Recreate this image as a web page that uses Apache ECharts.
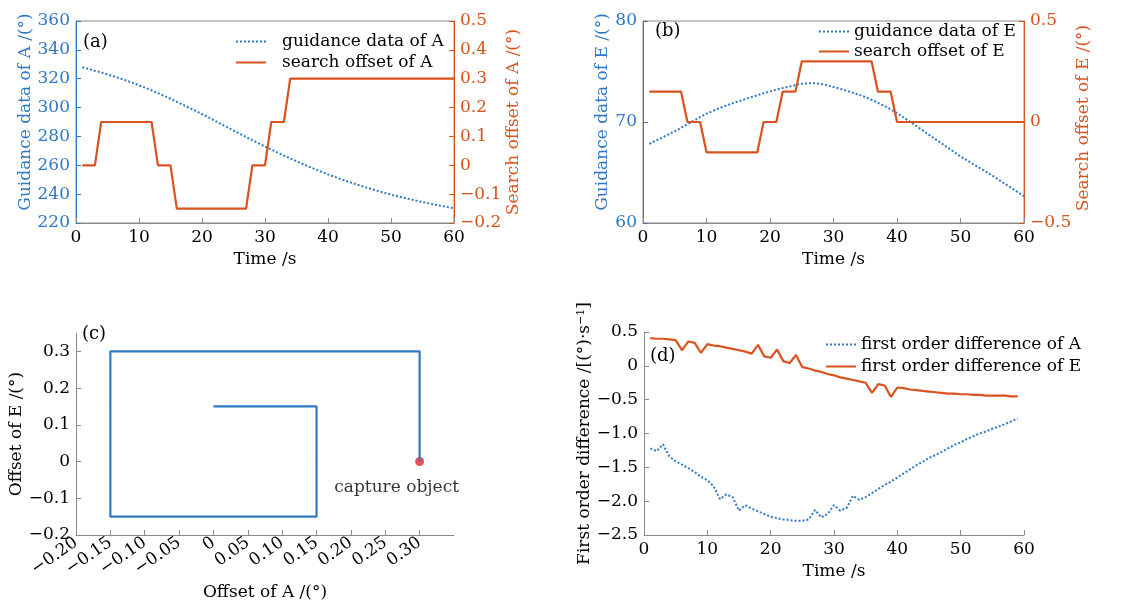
<!DOCTYPE html>
<html>
<head>
<meta charset="utf-8">
<script src="https://cdn.jsdelivr.net/npm/echarts@6/dist/echarts.min.js"></script>
<style>
html,body{margin:0;padding:0;background:#fff;}
#chart{width:1128px;height:606px;}
</style>
</head>
<body>
<div id="chart"></div>
<script>
// ---------- data ----------
const time60 = [1,2,3,4,5,6,7,8,9,10,11,12,13,14,15,16,17,18,19,20,21,22,23,24,25,26,27,28,29,30,31,32,33,34,35,36,37,38,39,40,41,42,43,44,45,46,47,48,49,50,51,52,53,54,55,56,57,58,59,60];
const time59 = [1,2,3,4,5,6,7,8,9,10,11,12,13,14,15,16,17,18,19,20,21,22,23,24,25,26,27,28,29,30,31,32,33,34,35,36,37,38,39,40,41,42,43,44,45,46,47,48,49,50,51,52,53,54,55,56,57,58,59];

const guidanceA = [328.0,326.8,325.5,324.4,323.0,321.6,320.2,318.7,317.1,315.4,
                   313.7,311.9,310.0,308.1,306.1,304.0,301.9,299.8,297.7,295.5,
                   293.3,291.0,288.7,286.4,284.1,281.8,279.6,277.4,275.2,273.0,
                   271.0,268.8,266.7,264.8,262.8,260.9,259.0,257.2,255.4,253.7,
                   252.1,250.5,249.0,247.5,246.1,244.7,243.4,242.1,240.9,239.7,
                   238.6,237.5,236.5,235.5,234.5,233.6,232.7,231.8,231.0,230.2];
const searchOffsetA = [0,0,0,0.15,0.15,0.15,0.15,0.15,0.15,0.15,
                       0.15,0.15,0,0,0,-0.15,-0.15,-0.15,-0.15,-0.15,
                       -0.15,-0.15,-0.15,-0.15,-0.15,-0.15,-0.15,0,0,0,
                       0.15,0.15,0.15,0.3,0.3,0.3,0.3,0.3,0.3,0.3,
                       0.3,0.3,0.3,0.3,0.3,0.3,0.3,0.3,0.3,0.3,
                       0.3,0.3,0.3,0.3,0.3,0.3,0.3,0.3,0.3,0.3];

const guidanceE = [67.83,68.15,68.45,68.77,69.08,69.43,69.78,70.13,70.48,70.82,
                   71.10,71.36,71.60,71.83,72.04,72.25,72.45,72.65,72.85,73.03,
                   73.20,73.36,73.50,73.65,73.79,73.83,73.84,73.78,73.65,73.46,
                   73.30,73.10,72.90,72.70,72.47,72.20,71.90,71.60,71.25,70.89,
                   70.47,70.05,69.62,69.19,68.75,68.32,67.89,67.46,67.03,66.60,
                   66.22,65.84,65.46,65.08,64.70,64.29,63.88,63.47,63.06,62.65];
const searchOffsetE = [0.15,0.15,0.15,0.15,0.15,0.15,0,0,0,-0.15,
                       -0.15,-0.15,-0.15,-0.15,-0.15,-0.15,-0.15,-0.15,0,0,
                       0,0.15,0.15,0.15,0.3,0.3,0.3,0.3,0.3,0.3,
                       0.3,0.3,0.3,0.3,0.3,0.3,0.15,0.15,0.15,0,
                       0,0,0,0,0,0,0,0,0,0,
                       0,0,0,0,0,0,0,0,0,0];

const captureObject = [0.3, 0];

const diffA = [-1.22,-1.26,-1.16,-1.34,-1.41,-1.46,-1.51,-1.57,-1.64,-1.69,
               -1.78,-1.97,-1.90,-1.94,-2.14,-2.06,-2.11,-2.15,-2.19,-2.23,
               -2.25,-2.27,-2.28,-2.29,-2.29,-2.27,-2.13,-2.24,-2.19,-2.06,
               -2.14,-2.10,-1.92,-1.98,-1.94,-1.88,-1.82,-1.76,-1.71,-1.65,
               -1.59,-1.53,-1.47,-1.42,-1.36,-1.32,-1.27,-1.22,-1.17,-1.13,
               -1.08,-1.04,-1.00,-0.97,-0.93,-0.90,-0.86,-0.82,-0.78];
const diffE = [0.41,0.40,0.40,0.39,0.38,0.23,0.36,0.34,0.19,0.32,
               0.30,0.29,0.27,0.25,0.23,0.21,0.18,0.31,0.14,0.12,
               0.24,0.07,0.04,0.16,-0.02,-0.04,-0.07,-0.09,-0.12,-0.14,
               -0.17,-0.19,-0.21,-0.23,-0.25,-0.40,-0.27,-0.29,-0.46,-0.32,
               -0.33,-0.35,-0.36,-0.37,-0.38,-0.39,-0.40,-0.41,-0.41,-0.42,
               -0.42,-0.43,-0.43,-0.44,-0.44,-0.44,-0.44,-0.45,-0.45];

// ---------- styles ----------
const FONT = 'DejaVu Serif';
const FS = 17;
const BLUE = '#2f78c4';
const ORANGE = '#d9531e';
const GRAY = '#8a8a8a';
const MINUS = '\u2212';

function fmt(dec) {
  return function (v) {
    if (Math.abs(v) < 1e-9) return '0';
    const s = Math.abs(v).toFixed(dec);
    return v < 0 ? MINUS + s : s;
  };
}
function pairs(xs, ys) { return xs.map((x, i) => [x, ys[i]]); }

function baseAxis(extra) {
  return Object.assign({
    type: 'value',
    splitLine: {show: false},
    axisTick: {show: true, inside: true, length: 5, lineStyle: {color: GRAY}},
    axisLine: {show: true, onZero: false, lineStyle: {color: GRAY, width: 1}},
    axisLabel: {fontFamily: FONT, fontSize: FS, color: '#000', margin: 6},
    nameTextStyle: {fontFamily: FONT, fontSize: FS, color: '#000'},
    nameLocation: 'middle'
  }, extra);
}
function colored(color, namePad) {
  return {
    axisLine: {show: true, onZero: false, lineStyle: {color: color, width: 1}},
    axisTick: {show: true, inside: true, length: 5, lineStyle: {color: color}},
    axisLabel: {fontFamily: FONT, fontSize: FS, color: color, margin: 6},
    nameTextStyle: {fontFamily: FONT, fontSize: FS, color: color, padding: namePad || 0}
  };
}

const legendCommon = {orient: 'vertical', padding: 0, itemWidth: 30, itemHeight: 17,
  itemStyle: {opacity: 0}};

const chart = echarts.init(document.getElementById('chart'));
const option = {
  animation: false,
  backgroundColor: '#fff',
  textStyle: {fontFamily: FONT, fontSize: FS},
  grid: [
    {left: 76, top: 21, width: 378, height: 202, show: true, borderColor: GRAY, borderWidth: 1, backgroundColor: 'transparent'},
    {left: 643, top: 21, width: 381, height: 202, show: true, borderColor: GRAY, borderWidth: 1, backgroundColor: 'transparent'},
    {left: 76, top: 333, width: 378, height: 202},
    {left: 644, top: 332, width: 380, height: 203}
  ],
  xAxis: [
    baseAxis({gridIndex: 0, min: 0, max: 60, interval: 10, name: 'Time /s', nameGap: 28}),
    baseAxis({gridIndex: 1, min: 0, max: 60, interval: 10, name: 'Time /s', nameGap: 28}),
    baseAxis({gridIndex: 2, min: -0.2, max: 0.35, interval: 0.05, name: 'Offset of A /(°)', nameGap: 49,
      axisLabel: {fontFamily: FONT, fontSize: FS, color: '#000', margin: 6, rotate: 35, showMaxLabel: false,
        formatter: function (v) { return v > 0.33 ? '' : fmt(2)(v); }}}),
    baseAxis({gridIndex: 3, min: 0, max: 60, interval: 10, name: 'Time /s', nameGap: 28})
  ],
  yAxis: [
    Object.assign(baseAxis({gridIndex: 0, min: 220, max: 360, interval: 20, name: 'Guidance data of A /(°)', nameGap: 41, position: 'left'}), colored(BLUE, [0, 0, 0, 20])),
    Object.assign(baseAxis({gridIndex: 0, min: -0.2, max: 0.5, interval: 0.1, name: 'Search offset of A /(°)', nameGap: 46, position: 'right'}), colored(ORANGE),
      {axisLabel: {fontFamily: FONT, fontSize: FS, color: ORANGE, margin: 6, formatter: fmt(1)}}),
    Object.assign(baseAxis({gridIndex: 1, min: 60, max: 80, interval: 10, name: 'Guidance data of E /(°)', nameGap: 31, position: 'left'}), colored(BLUE, [0, 0, 0, 20])),
    Object.assign(baseAxis({gridIndex: 1, min: -0.5, max: 0.5, interval: 0.5, name: 'Search offset of E /(°)', nameGap: 48, position: 'right'}), colored(ORANGE, [0, 0, 0, 8]),
      {axisLabel: {fontFamily: FONT, fontSize: FS, color: ORANGE, margin: 6, formatter: fmt(1)}}),
    baseAxis({gridIndex: 2, min: -0.2, max: 0.35, interval: 0.1, name: 'Offset of E /(°)', nameGap: 50,
      axisLabel: {fontFamily: FONT, fontSize: FS, color: '#000', margin: 6, showMaxLabel: false,
        formatter: function (v) { return v > 0.33 ? '' : fmt(1)(v); }}}),
    baseAxis({gridIndex: 3, min: -2.5, max: 0.5, interval: 0.5, name: 'First order difference /[(°)·s{sup|−1}]', nameGap: 50,
      axisLabel: {fontFamily: FONT, fontSize: FS, color: '#000', margin: 6, formatter: fmt(1)},
      nameTextStyle: {fontFamily: FONT, fontSize: FS, color: '#000',
        rich: {sup: {fontFamily: FONT, fontSize: 11, color: '#000', verticalAlign: 'top', lineHeight: 17}}}})
  ],
  legend: [
    Object.assign({}, legendCommon, {left: 235, top: 33, itemGap: 4,
     data: ['guidance data of A', 'search offset of A'],
     textStyle: {fontFamily: FONT, fontSize: FS, color: '#000', padding: [0, 0, 0, 11]}}),
    Object.assign({}, legendCommon, {left: 818, top: 23, itemGap: 3,
     data: ['guidance data of E', 'search offset of E'],
     textStyle: {fontFamily: FONT, fontSize: FS, color: '#000'}}),
    Object.assign({}, legendCommon, {left: 825, top: 336, itemGap: 5,
     data: ['first order difference of A', 'first order difference of E'],
     textStyle: {fontFamily: FONT, fontSize: FS, color: '#000'}})
  ],
  graphic: [
    {type: 'text', left: 83, top: 33, style: {text: '(a)', font: '18px "DejaVu Serif"', fill: '#000'}},
    {type: 'text', left: 655, top: 22, style: {text: '(b)', font: '18px "DejaVu Serif"', fill: '#000'}},
    {type: 'text', left: 82, top: 325, style: {text: '(c)', font: '18px "DejaVu Serif"', fill: '#000'}},
    {type: 'text', left: 650, top: 347, style: {text: '(d)', font: '18px "DejaVu Serif"', fill: '#000'}}
  ],
  series: [
    {name: 'guidance data of A', type: 'line', xAxisIndex: 0, yAxisIndex: 0, symbol: 'none',
     data: pairs(time60, guidanceA), lineStyle: {color: BLUE, width: 2, type: 'dotted'}, itemStyle: {color: BLUE}},
    {name: 'search offset of A', type: 'line', xAxisIndex: 0, yAxisIndex: 1, symbol: 'none',
     data: pairs(time60, searchOffsetA), lineStyle: {color: ORANGE, width: 2.2}, itemStyle: {color: ORANGE}},
    {name: 'guidance data of E', type: 'line', xAxisIndex: 1, yAxisIndex: 2, symbol: 'none',
     data: pairs(time60, guidanceE), lineStyle: {color: BLUE, width: 2, type: 'dotted'}, itemStyle: {color: BLUE}},
    {name: 'search offset of E', type: 'line', xAxisIndex: 1, yAxisIndex: 3, symbol: 'none',
     data: pairs(time60, searchOffsetE), lineStyle: {color: ORANGE, width: 2.2}, itemStyle: {color: ORANGE}},
    {name: 'search path', type: 'line', xAxisIndex: 2, yAxisIndex: 4, symbol: 'none',
     data: pairs(searchOffsetA, searchOffsetE), lineStyle: {color: BLUE, width: 2.2}},
    {name: 'capture object', type: 'scatter', xAxisIndex: 2, yAxisIndex: 4, symbolSize: 9,
     data: [captureObject], itemStyle: {color: '#e8262a'},
     label: {show: true, position: 'bottom', distance: 5, offset: [-23, 8], formatter: 'capture object',
       fontFamily: FONT, fontSize: FS, color: '#000'}},
    {name: 'first order difference of A', type: 'line', xAxisIndex: 3, yAxisIndex: 5, symbol: 'none',
     data: pairs(time59, diffA), lineStyle: {color: BLUE, width: 2, type: 'dotted'}, itemStyle: {color: BLUE}},
    {name: 'first order difference of E', type: 'line', xAxisIndex: 3, yAxisIndex: 5, symbol: 'none',
     data: pairs(time59, diffE), lineStyle: {color: ORANGE, width: 2.2}, itemStyle: {color: ORANGE}}
  ]
};
chart.setOption(option);
</script>
</body>
</html>
